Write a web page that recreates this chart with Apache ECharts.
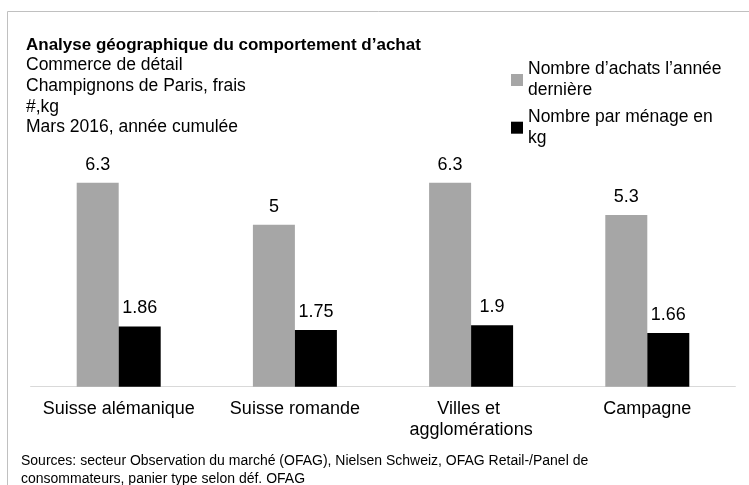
<!DOCTYPE html>
<html>
<head>
<meta charset="utf-8">
<script src="https://cdn.jsdelivr.net/npm/echarts@6/dist/echarts.min.js"></script>
<style>
  html, body { margin: 0; padding: 0; background: #fff; }
  #chart { width: 749px; height: 485px; }
</style>
</head>
<body>
<div id="chart"></div>
<script>
// data
const categories = ['Suisse alémanique', 'Suisse romande', 'Villes et agglomérations', 'Campagne']
const achats = [6.3, 5, 6.3, 5.3]
const parMenage = [1.86, 1.75, 1.9, 1.66]
const seriesNames = ['Nombre d’achats l’année\ndernière', 'Nombre par ménage en\nkg']

const titleText = 'Analyse géographique du comportement d’achat'
const subLines = ['Commerce de détail', 'Champignons de Paris, frais', '#,kg', 'Mars 2016, année cumulée']
const sourceText = 'Sources: secteur Observation du marché (OFAG), Nielsen Schweiz, OFAG Retail-/Panel de\nconsommateurs, panier type selon déf. OFAG'

const FONT = '"Liberation Sans", Arial, sans-serif'

const chart = echarts.init(document.getElementById('chart'), null, { renderer: 'canvas' })

const labelStyle = {
  show: true,
  position: 'top',
  distance: 9,
  color: '#000',
  fontSize: 18,
  fontFamily: FONT
}

chart.setOption({
  animation: false,
  backgroundColor: '#fff',
  textStyle: { fontFamily: FONT },
  title: [
    {
      text: titleText,
      subtext: subLines.join('\n'),
      left: 26,
      top: 35,
      padding: 0,
      itemGap: 0,
      textStyle: { fontSize: 17, fontWeight: 'bold', color: '#000', lineHeight: 20, fontFamily: FONT },
      subtextStyle: { fontSize: 17.5, color: '#000', lineHeight: 20.7, fontFamily: FONT }
    },
    {
      text: sourceText,
      left: 21,
      top: 452,
      padding: 0,
      textStyle: { fontSize: 14, fontWeight: 'normal', color: '#000', lineHeight: 18, fontFamily: FONT }
    }
  ],
  legend: {
    orient: 'vertical',
    left: 511,
    top: 48.5,
    padding: 0,
    itemWidth: 12,
    itemHeight: 12,
    itemGap: -15.3,
    icon: 'rect',
    textStyle: { fontSize: 17.5, color: '#000', lineHeight: 21, padding: [21, 0, 0, 0], fontFamily: FONT }
  },
  grid: { left: 30.6, right: 13.6, top: 160, bottom: 98.3 },
  xAxis: {
    type: 'category',
    data: categories,
    axisLine: { lineStyle: { color: '#d9d9d9', width: 1 } },
    axisTick: { show: false },
    axisLabel: {
      color: '#000',
      fontSize: 18,
      lineHeight: 21,
      margin: 12,
      width: 170,
      overflow: 'break',
      interval: 0,
      fontFamily: FONT
    }
  },
  yAxis: {
    type: 'value',
    min: 0,
    max: 7,
    show: false,
    splitLine: { show: false }
  },
  series: [
    {
      name: seriesNames[0],
      type: 'bar',
      data: achats,
      barWidth: 42,
      barGap: '0%',
      itemStyle: { color: '#a6a6a6' },
      label: labelStyle
    },
    {
      name: seriesNames[1],
      type: 'bar',
      data: parMenage,
      barWidth: 42,
      barGap: '0%',
      itemStyle: { color: '#000000' },
      label: labelStyle
    }
  ],
  graphic: [
    { type: 'line', shape: { x1: 7.5, y1: 11.5, x2: 749, y2: 11.5 }, style: { stroke: '#c0c0c0', lineWidth: 1 } },
    { type: 'line', shape: { x1: 7.5, y1: 11.5, x2: 7.5, y2: 485 }, style: { stroke: '#c0c0c0', lineWidth: 1 } }
  ]
})
</script>
</body>
</html>
